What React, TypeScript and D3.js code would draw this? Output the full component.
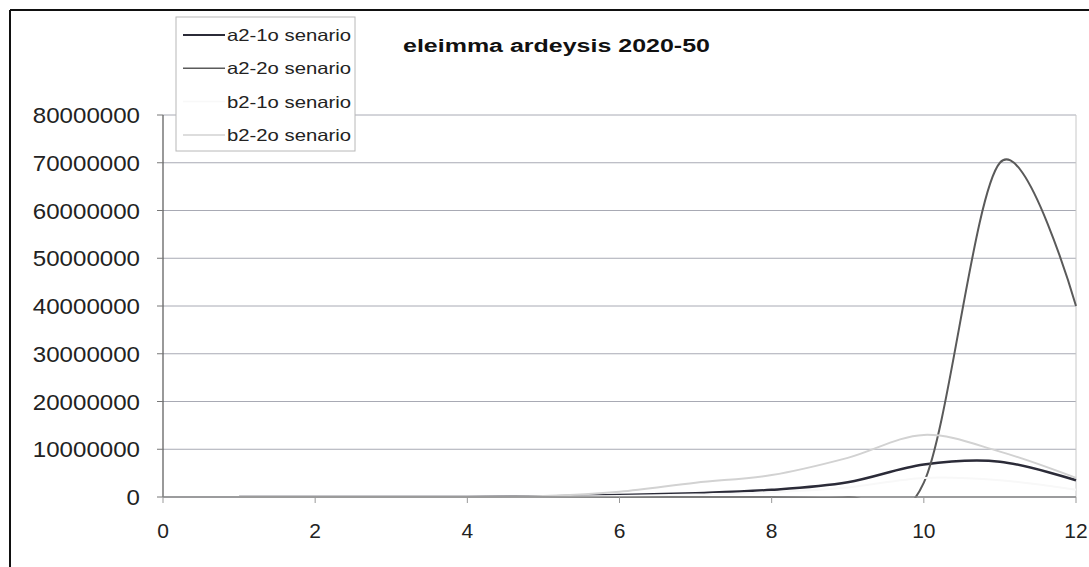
import React from "react";
import * as d3 from "d3";

const months = [1, 2, 3, 4, 5, 6, 7, 8, 9, 10, 11, 12];
const a21 = [0, 0, 0, 0, 0.1e6, 0.4e6, 0.8e6, 1.5e6, 3.1e6, 6.8e6, 7.4e6, 3.5e6];
const a22 = [0, 0, 0, 0, 0, 0, 0, 0, 0, 3e6, 70e6, 40e6];
const b21 = [0, 0, 0, 0, 0.05e6, 0.2e6, 0.5e6, 1.0e6, 2.0e6, 4.0e6, 3.5e6, 1.5e6];
const b22 = [0, 0, 0, 0, 0.2e6, 1.1e6, 3.0e6, 4.6e6, 8.2e6, 13e6, 9.5e6, 4e6];

const seriesNames = ["a2-1o senario", "a2-2o senario", "b2-1o senario", "b2-2o senario"];
const seriesValues = [a21, a22, b21, b22];
const seriesColors = ["#2b2b38", "#5a5a5a", "#f8f8f8", "#d2d2d2"];
const seriesWidths = [2.5, 2, 2, 2];

const xTicks = [0, 2, 4, 6, 8, 10, 12];
const yTicks = [0, 10e6, 20e6, 30e6, 40e6, 50e6, 60e6, 70e6, 80e6];
const title = "eleimma ardeysis 2020-50";

export default function App() {
  const W = 1089, H = 567;
  const x = d3.scaleLinear().domain([0, 12]).range([163, 1076]);
  const y = d3.scaleLinear().domain([0, 80e6]).range([497, 115]);
  const line = d3
    .line<[number, number]>()
    .x((d) => x(d[0]))
    .y((d) => y(d[1]))
    .curve(d3.curveCardinal.tension(0));
  const font = "'Liberation Sans', Arial, sans-serif";

  return (
    <svg
      width={W}
      height={H}
      style={{ position: "absolute", left: 0, top: 0, background: "#fff" }}
    >
      <defs>
        <clipPath id="plotclip">
          <rect x={x(0)} y={y(80e6) - 5} width={x(12) - x(0) + 2} height={y(0) - y(80e6) + 6} />
        </clipPath>
      </defs>
      <rect x={0} y={0} width={W} height={H} fill="#fff" />
      {/* outer frame */}
      <line x1={10} y1={10} x2={W} y2={10} stroke="#111" strokeWidth={2} />
      <line x1={10} y1={10} x2={10} y2={H} stroke="#111" strokeWidth={2} />

      {/* gridlines */}
      {yTicks.map((t) => (
        <line key={"g" + t} x1={x(0)} x2={x(12)} y1={y(t)} y2={y(t)} stroke="#a8aab4" strokeWidth={1} />
      ))}
      <line x1={x(12)} x2={x(12)} y1={y(80e6)} y2={y(0)} stroke="#c8c8c8" strokeWidth={1} />

      {/* series */}
      <g clipPath="url(#plotclip)">
        {seriesValues.map((vals, i) => (
          <path
            key={seriesNames[i]}
            d={line(months.map((m, j) => [m, vals[j]] as [number, number])) || ""}
            fill="none"
            stroke={seriesColors[i]}
            strokeWidth={seriesWidths[i]}
          />
        ))}
      </g>

      {/* axes */}
      <line x1={x(0)} x2={x(0)} y1={y(80e6)} y2={y(0)} stroke="#555" strokeWidth={1.2} />
      <line x1={x(0)} x2={x(12)} y1={y(0)} y2={y(0)} stroke="#888" strokeWidth={1.5} />
      {yTicks.map((t) => (
        <g key={"yt" + t}>
          <line x1={x(0) - 6} x2={x(0)} y1={y(t)} y2={y(t)} stroke="#777" />
          <text
            x={140}
            y={y(t) + 8}
            textAnchor="end"
            fontFamily={font}
            fontSize={22}
            fill="#222"
            textLength={String(t).length * 13.4}
            lengthAdjust="spacingAndGlyphs"
          >
            {String(t)}
          </text>
        </g>
      ))}
      {xTicks.map((t) => (
        <g key={"xt" + t}>
          <line x1={x(t)} x2={x(t)} y1={y(0)} y2={y(0) + 6} stroke="#999" />
          <text x={x(t)} y={538} textAnchor="middle" fontFamily={font} fontSize={21} fill="#222">
            {t}
          </text>
        </g>
      ))}

      {/* title */}
      <text
        x={403}
        y={52}
        fontFamily={font}
        fontSize={18}
        fontWeight="bold"
        fill="#111"
        textLength={307}
        lengthAdjust="spacingAndGlyphs"
      >
        {title}
      </text>

      {/* legend */}
      <rect x={176} y={17} width={179} height={134} fill="#fff" stroke="#b8b8b8" strokeWidth={1} />
      {seriesNames.map((n, i) => (
        <g key={"lg" + n}>
          <line x1={183} x2={225} y1={35 + i * 33.3} y2={35 + i * 33.3} stroke={seriesColors[i]} strokeWidth={i === 0 ? 2 : 1.5} />
          <text
            x={227}
            y={41 + i * 33.3}
            fontFamily={font}
            fontSize={16.5}
            fill="#222"
            textLength={124}
            lengthAdjust="spacingAndGlyphs"
          >
            {n}
          </text>
        </g>
      ))}
    </svg>
  );
}
